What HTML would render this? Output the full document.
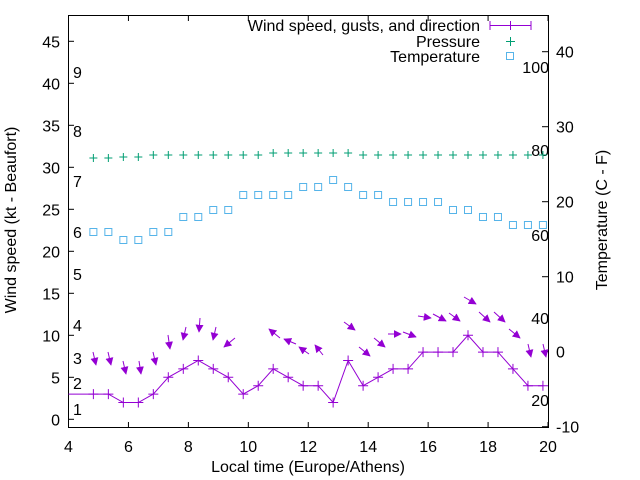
<!DOCTYPE html>
<html><head><meta charset="utf-8"><style>
html,body{margin:0;padding:0;background:#fff;}
svg{display:block;font-family:"Liberation Sans",sans-serif;}
</style></head><body>
<svg width="640" height="480" viewBox="0 0 640 480" xmlns="http://www.w3.org/2000/svg">
<defs>
<marker id="ah" viewBox="0 0 10 10" refX="9" refY="5" markerWidth="8" markerHeight="8" markerUnits="userSpaceOnUse" orient="auto">
<path d="M0,0 L10,5 L0,10 z" fill="#9400d3"/>
</marker>
</defs>
<rect width="640" height="480" fill="#fff"/>
<g id="frame" stroke="#000" stroke-width="1" fill="none">
<rect x="68.5" y="15.5" width="480" height="412"/>
</g>
<g id="ticks" stroke="#000" stroke-width="1"></g>
<g id="labels" font-size="16" fill="#000"></g>
<g id="data"></g>
<text x="16" y="220" font-size="16" text-anchor="middle" transform="rotate(-90 16 220)">Wind speed (kt - Beaufort)</text>
<text x="607" y="220" font-size="16" text-anchor="middle" transform="rotate(-90 607 220)">Temperature (C - F)</text>
<text x="308" y="472" font-size="16" text-anchor="middle">Local time (Europe/Athens)</text>
<g font-size="16" text-anchor="end">
<text x="480" y="31">Wind speed, gusts, and direction</text>
<text x="480" y="47">Pressure</text>
<text x="480" y="62">Temperature</text>
</g>
<g stroke="#9400d3" stroke-width="1"><line x1="490" y1="25.5" x2="531" y2="25.5"/><line x1="490" y1="21" x2="490" y2="30"/><line x1="531" y1="21" x2="531" y2="30"/><line x1="510.5" y1="21" x2="510.5" y2="30"/></g>
<g stroke="#009e73"><line x1="506" y1="41.5" x2="515" y2="41.5"/><line x1="510.5" y1="37" x2="510.5" y2="46"/></g>
<rect x="506.5" y="52.5" width="7" height="7" fill="none" stroke="#56b4e9"/>
<script>
var NS="http://www.w3.org/2000/svg";
function el(p,n,a,t){var e=document.createElementNS(NS,n);for(var k in a)e.setAttribute(k,a[k]);if(t!==undefined)e.textContent=t;document.getElementById(p).appendChild(e);return e;}
function X(h){return 68.5+(h-4)*29.97;}
function Y(v){return 419.3-v*8.4;}
function YR(t){return 351.7-t*7.5;}
for(var h=4;h<=20;h+=2){var x=X(h);el("ticks","line",{x1:x,y1:428,x2:x,y2:422});el("ticks","line",{x1:x,y1:15,x2:x,y2:21});el("labels","text",{x:x,y:452,"text-anchor":"middle"},h);}
for(var v=0;v<=45;v+=5){var y=Y(v);el("ticks","line",{x1:68,y1:y,x2:74,y2:y});el("labels","text",{x:60,y:y+6,"text-anchor":"end"},v);}
for(var t=-10;t<=40;t+=10){var y=YR(t);el("ticks","line",{x1:548,y1:y,x2:542,y2:y});el("labels","text",{x:556,y:y+6,"text-anchor":"start"},t);}
var bf=[[1,409],[2,383],[3,358],[4,325],[5,274],[6,232],[7,181],[8,131],[9,72]];
bf.forEach(function(b){el("labels","text",{x:73,y:b[1]+6,"text-anchor":"start"},b[0]);});
var hm=[[20,400],[40,318],[60,235],[80,150],[100,67]];
hm.forEach(function(b){el("labels","text",{x:549,y:b[1]+6,"text-anchor":"end"},b[0]);});
var sp=[3,3,2,2,3,5,6,7,6,5,3,4,6,5,4,4,2,7,4,5,6,6,8,8,8,10,8,8,6,4,4];
var pr=[158,158,157,157,155,155,155,155,155,155,155,155,153,153,153,153,153,153,155,155,155,155,155,155,155,155,155,155,155,155,155];
var tp=[232,232,240,240,232,232,217,217,210,210,195,195,195,195,187,187,180,187,195,195,202,202,202,202,210,210,217,217,225,225,225];
var pts="68.5,"+Y(3);
for(var i=0;i<31;i++){pts+=" "+X(4.83+i*0.5)+","+Y(sp[i]);}
el("data","polyline",{points:pts,fill:"none",stroke:"#9400d3","stroke-width":1});
for(var i=0;i<31;i++){var x=X(4.83+i*0.5),y=Y(sp[i]);
el("data","path",{d:"M"+(x-5)+","+y+"h10M"+x+","+(y-5)+"v10",stroke:"#9400d3"});
el("data","path",{d:"M"+(x-4)+","+pr[i]+"h8M"+x+","+(pr[i]-4)+"v8",stroke:"#009e73"});
el("data","rect",{x:x-3.5,y:tp[i]-3.5,width:7,height:7,fill:"none",stroke:"#56b4e9"});}
var ar=[[93,352,96,365],[108,352,111,365],[123,361,126,374],[139,361,141,374],[153,352,156,365],[168,335,170,349],[186,327,183,340],[200,318,199,332],[216,327,213,340],[235,338,224,347],
[280,338,269,329],[296,344,284,339],[309,354,299,347],[323,355,315,345],[344,322,355,330],[359,347,370,356],[374,338,385,347],[388,334,401,334],[403,332,416,337],[418,316,431,318],[433,314,446,321],[449,313,460,321],[464,297,476,304],[479,312,490,322],[494,312,505,322],[509,329,520,338],[528,344,531,357],[543,344,546,357]];
ar.forEach(function(a){el("data","line",{x1:a[0],y1:a[1],x2:a[2],y2:a[3],stroke:"#9400d3","stroke-width":1,"marker-end":"url(#ah)"});});
</script>
</svg>
</body></html>
